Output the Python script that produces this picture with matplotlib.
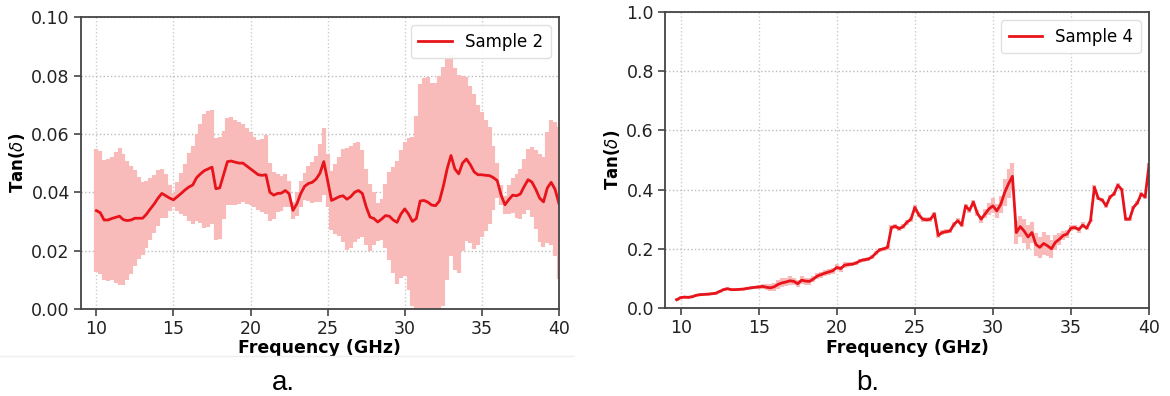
import numpy as np
import matplotlib
matplotlib.use("Agg")
import matplotlib.pyplot as plt
from matplotlib.lines import Line2D

# Sample 2 (panel a) - tan(delta) mean and half-width of the error bar
freq_a = np.arange(10.0, 40.01, 0.25)
tan_a = [
    0.0337, 0.0330, 0.0305, 0.0305, 0.0310, 0.0314, 0.0318, 0.0306, 0.0303, 0.0305,
    0.0311, 0.0311, 0.0311, 0.0325, 0.0343, 0.0360, 0.0380, 0.0396, 0.0388, 0.0380,
    0.0374, 0.0385, 0.0396, 0.0408, 0.0418, 0.0425, 0.0450, 0.0463, 0.0474, 0.0480,
    0.0486, 0.0412, 0.0415, 0.0460, 0.0505, 0.0507, 0.0503, 0.0500, 0.0500, 0.0490,
    0.0480, 0.0470, 0.0460, 0.0458, 0.0460, 0.0400, 0.0390, 0.0396, 0.0397, 0.0406,
    0.0395, 0.0338, 0.0360, 0.0395, 0.0420, 0.0430, 0.0434, 0.0445, 0.0465, 0.0505,
    0.0440, 0.0372, 0.0378, 0.0385, 0.0388, 0.0376, 0.0385, 0.0400, 0.0406, 0.0396,
    0.0350, 0.0315, 0.0310, 0.0298, 0.0308, 0.0320, 0.0318, 0.0305, 0.0297, 0.0325,
    0.0343, 0.0325, 0.0300, 0.0310, 0.0370, 0.0372, 0.0366, 0.0356, 0.0354, 0.0370,
    0.0420, 0.0480, 0.0526, 0.0480, 0.0463, 0.0500, 0.0514, 0.0495, 0.0470, 0.0460,
    0.0460, 0.0458, 0.0457, 0.0450, 0.0440, 0.0390, 0.0357, 0.0375, 0.0390, 0.0388,
    0.0394, 0.0420, 0.0443, 0.0435, 0.0410, 0.0380, 0.0367, 0.0415, 0.0434, 0.0410,
    0.0362,
]
err_a = [
    0.0210, 0.0210, 0.0205, 0.0210, 0.0212, 0.0225, 0.0235, 0.0225, 0.0205, 0.0185,
    0.0165, 0.0140, 0.0125, 0.0115, 0.0105, 0.0100, 0.0095, 0.0085, 0.0075, 0.0045,
    0.0025, 0.0050, 0.0070, 0.0090, 0.0115, 0.0135, 0.0150, 0.0170, 0.0195, 0.0200,
    0.0195, 0.0175, 0.0175, 0.0150, 0.0150, 0.0150, 0.0145, 0.0140, 0.0135, 0.0130,
    0.0125, 0.0120, 0.0120, 0.0125, 0.0135, 0.0100, 0.0080, 0.0065, 0.0060, 0.0055,
    0.0045, 0.0030, 0.0040, 0.0045, 0.0045, 0.0060, 0.0070, 0.0080, 0.0100, 0.0115,
    0.0090, 0.0100, 0.0120, 0.0135, 0.0160, 0.0175, 0.0175, 0.0170, 0.0165, 0.0150,
    0.0130, 0.0115, 0.0090, 0.0065, 0.0070, 0.0110, 0.0150, 0.0180, 0.0210, 0.0220,
    0.0230, 0.0260, 0.0290, 0.0350, 0.0400, 0.0420, 0.0430, 0.0420, 0.0420, 0.0430,
    0.0410, 0.0380, 0.0345, 0.0345, 0.0340, 0.0300, 0.0280, 0.0270, 0.0265, 0.0240,
    0.0215, 0.0190, 0.0165, 0.0110, 0.0060, 0.0035, 0.0030, 0.0050, 0.0060, 0.0075,
    0.0085, 0.0095, 0.0105, 0.0120, 0.0135, 0.0150, 0.0155, 0.0190, 0.0215, 0.0230,
    0.0260,
]

# Sample 4 (panel b)
freq_b = np.arange(9.75, 40.01, 0.25)
tan_b = [
    0.028, 0.035, 0.037, 0.036, 0.038, 0.043, 0.045, 0.046, 0.047, 0.048,
    0.050, 0.056, 0.062, 0.065, 0.062, 0.062, 0.063, 0.064, 0.066, 0.068,
    0.070, 0.071, 0.073, 0.070, 0.068, 0.072, 0.080, 0.085, 0.088, 0.092,
    0.090, 0.082, 0.094, 0.091, 0.090, 0.098, 0.108, 0.113, 0.118, 0.122,
    0.126, 0.137, 0.133, 0.145, 0.147, 0.148, 0.152, 0.160, 0.163, 0.165,
    0.172, 0.185, 0.197, 0.200, 0.205, 0.272, 0.276, 0.268, 0.275, 0.290,
    0.300, 0.340, 0.315, 0.300, 0.298, 0.300, 0.318, 0.245, 0.255, 0.258,
    0.260, 0.282, 0.295, 0.280, 0.345, 0.330, 0.358, 0.320, 0.300, 0.318,
    0.335, 0.345, 0.328, 0.350, 0.390, 0.420, 0.445, 0.255, 0.275, 0.260,
    0.240, 0.255, 0.215, 0.205, 0.218, 0.210, 0.200, 0.222, 0.232, 0.245,
    0.250, 0.270, 0.272, 0.265, 0.280, 0.270, 0.295, 0.408, 0.370, 0.365,
    0.345, 0.375, 0.385, 0.415, 0.400, 0.300, 0.300, 0.340, 0.355, 0.385,
    0.375, 0.485,
]
err_b = [
    0.005, 0.005, 0.005, 0.005, 0.005, 0.005, 0.005, 0.005, 0.005, 0.005,
    0.005, 0.005, 0.005, 0.005, 0.005, 0.005, 0.005, 0.005, 0.005, 0.005,
    0.005, 0.006, 0.008, 0.010, 0.012, 0.014, 0.015, 0.015, 0.014, 0.015,
    0.013, 0.012, 0.013, 0.012, 0.012, 0.011, 0.010, 0.010, 0.010, 0.010,
    0.010, 0.010, 0.010, 0.010, 0.007, 0.007, 0.007, 0.007, 0.007, 0.007,
    0.007, 0.007, 0.007, 0.007, 0.008, 0.008, 0.008, 0.008, 0.008, 0.008,
    0.008, 0.008, 0.008, 0.008, 0.008, 0.008, 0.008, 0.008, 0.008, 0.008,
    0.008, 0.008, 0.008, 0.008, 0.008, 0.008, 0.008, 0.010, 0.012, 0.015,
    0.020, 0.025, 0.025, 0.030, 0.045, 0.050, 0.045, 0.040, 0.035, 0.040,
    0.040, 0.035, 0.040, 0.035, 0.040, 0.035, 0.030, 0.025, 0.020, 0.015,
    0.012, 0.010, 0.010, 0.010, 0.010, 0.006, 0.006, 0.006, 0.006, 0.006,
    0.006, 0.006, 0.006, 0.006, 0.006, 0.006, 0.006, 0.006, 0.006, 0.006,
    0.006, 0.006,
]

xticks = [10, 15, 20, 25, 30, 35, 40]
yticks_a = [0.00, 0.02, 0.04, 0.06, 0.08, 0.10]
yticks_b = [0.0, 0.2, 0.4, 0.6, 0.8, 1.0]

LINE = "#e8131b"
BAND = "#f9baba"
SPINE = "#444444"


def style_axes(ax, yticks, fmt):
    ax.set_xlim(9, 40)
    ax.set_xticks(xticks)
    ax.set_yticks(yticks)
    ax.set_ylim(yticks[0], yticks[-1])
    ax.set_yticklabels([fmt.format(v) for v in yticks])
    ax.tick_params(labelsize=12.5, length=5, width=1.2, color=SPINE, labelcolor="#222222", pad=3)
    ax.grid(True, axis="x", color="#cccccc", linestyle=":", linewidth=1.0)
    ax.grid(True, axis="y", color="#bbbbbb", linestyle=":", linewidth=1.0)
    for s in ax.spines.values():
        s.set_color(SPINE)
        s.set_linewidth(1.3)
    ax.set_xlabel("Frequency (GHz)", fontsize=12.5, fontweight="bold", labelpad=1)
    ax.set_ylabel(r"Tan($\delta$)", fontsize=12, fontweight="bold", labelpad=3)


def add_legend(ax, name):
    handle = Line2D([], [], color=LINE, linewidth=2.0)
    ax.legend([handle], [name], loc="upper right", fontsize=12, handlelength=2.0,
              borderpad=0.45, framealpha=0.9, edgecolor="#dddddd")


fig = plt.figure(figsize=(11.7, 3.96), dpi=100)
ax1 = fig.add_axes([0.0692, 0.2197, 0.4085, 0.737])
ax2 = fig.add_axes([0.5684, 0.2222, 0.4137, 0.7475])

ax1.errorbar(freq_a, tan_a, yerr=err_a, color=LINE, ecolor=BAND, elinewidth=3.0,
             linewidth=2.0)
style_axes(ax1, yticks_a, "{:.2f}")
add_legend(ax1, "Sample 2")

ax2.errorbar(freq_b, tan_b, yerr=err_b, color=LINE, ecolor=BAND, elinewidth=3.0,
             linewidth=2.0)
style_axes(ax2, yticks_b, "{:.1f}")
add_legend(ax2, "Sample 4")

# thin separator under panel a and the captions
fig.add_artist(Line2D([0.0, 0.49], [1 - 356 / 396, 1 - 356 / 396],
                      color="#eeeeee", linewidth=1.0))
fig.text(0.242, 0.016, "a.", fontsize=20, ha="center", family="Liberation Sans")
fig.text(0.742, 0.016, "b.", fontsize=20, ha="center", family="Liberation Sans")

fig.savefig("out.png", dpi=100)
